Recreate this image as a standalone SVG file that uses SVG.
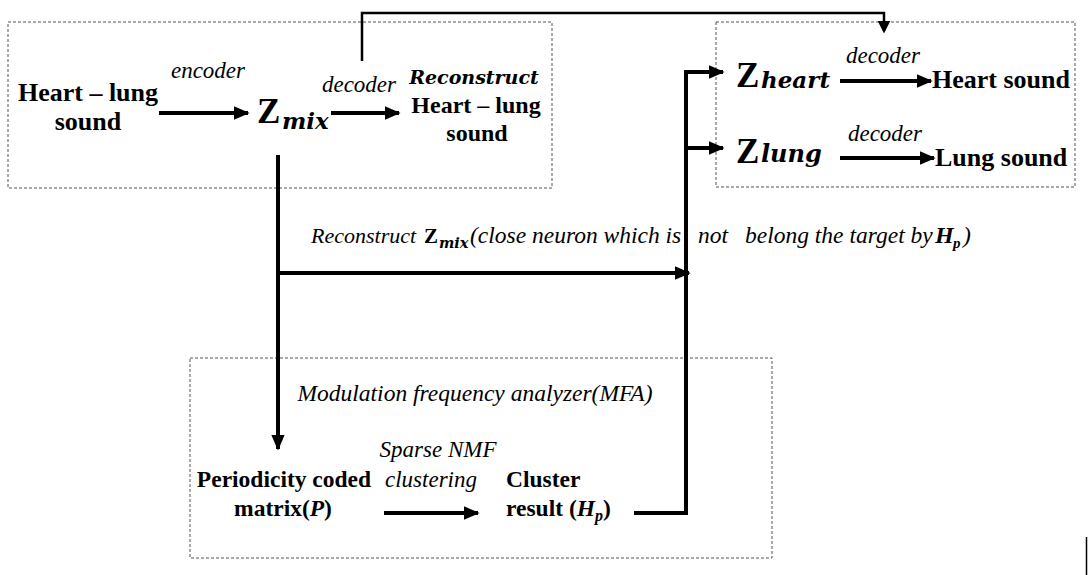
<svg xmlns="http://www.w3.org/2000/svg" width="1090" height="575" viewBox="0 0 1090 575">
<defs>
<style>
.box{fill:none;stroke:#555;stroke-width:1;stroke-dasharray:3,2}
.ln{fill:none;stroke:#000;stroke-width:4}
.thin{fill:none;stroke:#000;stroke-width:2.5}
.cb{font-family:"Liberation Serif","DejaVu Serif",serif;font-weight:bold;fill:#000}
.ci{font-family:"Liberation Serif","DejaVu Serif",serif;font-style:italic;fill:#000}
.mbi{font-family:"DejaVu Serif","Liberation Serif",serif;font-style:italic;font-weight:bold;fill:#000}
</style>
<marker id="ah" markerWidth="4" markerHeight="4" refX="3.6" refY="2" orient="auto" markerUnits="strokeWidth"><path d="M0,0.3 L4,2 L0,3.7 z" fill="#000"/></marker>
<marker id="ahs" markerWidth="5" markerHeight="5" refX="4" refY="2.5" orient="auto" markerUnits="strokeWidth"><path d="M0,0 L5,2.5 L0,5 z" fill="#000"/></marker>
</defs>
<rect width="1090" height="575" fill="#fff"/>

<g id="box-autoencoder">
<rect class="box" x="8" y="22" width="544" height="166"/>
<text class="cb" font-size="26" x="88" y="101" text-anchor="middle">Heart – lung</text>
<text class="cb" font-size="26" x="88" y="130" text-anchor="middle">sound</text>
<text class="ci" font-size="23" x="208" y="78" text-anchor="middle">encoder</text>
<g id="zmix"><text class="cb" font-size="35" x="257" y="123">Z</text><text class="mbi" font-size="23" x="282" y="129">mix</text></g>
<text class="ci" font-size="23" x="359" y="92" text-anchor="middle">decoder</text>
<text class="mbi" font-size="19" x="474" y="84" text-anchor="middle">Reconstruct</text>
<text class="cb" font-size="24" x="476" y="113" text-anchor="middle">Heart – lung</text>
<text class="cb" font-size="24" x="477" y="141" text-anchor="middle">sound</text>
</g>

<g id="box-separated">
<rect class="box" x="716" y="22" width="359" height="165"/>
<g id="zheart"><text class="cb" font-size="35" x="736" y="87">Z</text><text class="mbi" font-size="23" x="761" y="88">heart</text></g>
<g id="zlung"><text class="cb" font-size="35" x="736" y="163">Z</text><text class="mbi" font-size="24" x="761" y="162">lung</text></g>
<text class="ci" font-size="23" x="883" y="63" text-anchor="middle">decoder</text>
<text class="ci" font-size="23" x="885" y="141" text-anchor="middle">decoder</text>
<text class="cb" font-size="26" x="932" y="88">Heart sound</text>
<text class="cb" font-size="26" x="935" y="166">Lung sound</text>
</g>

<g id="box-mfa">
<rect class="box" x="190" y="358" width="582" height="200"/>
<text class="ci" font-size="23.5" x="475" y="401" text-anchor="middle">Modulation frequency analyzer(MFA)</text>
<text class="cb" font-size="23.5" x="284" y="487" text-anchor="middle">Periodicity coded</text>
<text class="cb" font-size="23.5" x="283" y="516" text-anchor="middle">matrix(<tspan font-style="italic">P</tspan>)</text>
<text class="ci" font-size="23" x="438" y="457" text-anchor="middle">Sparse NMF</text>
<text class="ci" font-size="23" x="431" y="487" text-anchor="middle">clustering</text>
<text class="cb" font-size="23.5" x="506" y="487">Cluster</text>
<text class="cb" font-size="23.5" x="506" y="516">result (<tspan font-style="italic">H</tspan><tspan font-style="italic" font-size="16" dy="5">p</tspan><tspan dy="-5">)</tspan></text>
</g>

<g id="label-reconstruct">
<text class="ci" font-size="22" x="311" y="243">Reconstruct</text>
<text class="cb" font-size="21" x="424" y="243">Z</text>
<text class="mbi" font-size="14.5" x="439" y="248">mix</text>
<text class="ci" font-size="23.5" x="470" y="243">(close neuron which is</text>
<text class="ci" font-size="23.5" x="698" y="243">not</text>
<text class="ci" font-size="23.5" x="745" y="243">belong the target by</text>
<text class="cb" font-size="24" x="935" y="243" font-style="italic">H</text>
<text class="cb" font-size="15" x="953" y="248" font-style="italic">p</text>
<text class="ci" font-size="23.5" x="963" y="243">)</text>
</g>

<g id="connectors">
<line class="ln" x1="159" y1="113" x2="248" y2="113" marker-end="url(#ah)"/>
<line class="ln" x1="331" y1="113" x2="399" y2="113" marker-end="url(#ah)"/>
<polyline class="thin" points="362,61 362,13 884,13 884,31" marker-end="url(#ahs)"/>
<line class="ln" x1="278" y1="155" x2="278" y2="449" marker-end="url(#ah)"/>
<line class="ln" x1="278" y1="273" x2="689" y2="273" marker-end="url(#ah)"/>
<line class="ln" x1="384" y1="513" x2="478" y2="513" marker-end="url(#ah)"/>
<polyline class="ln" points="634,513 686,513 686,72"/>
<line class="ln" x1="684" y1="72" x2="723" y2="72" marker-end="url(#ah)"/>
<line class="ln" x1="684" y1="148" x2="723" y2="148" marker-end="url(#ah)"/>
<line class="ln" x1="840" y1="81" x2="931" y2="81" marker-end="url(#ah)"/>
<line class="ln" x1="840" y1="158" x2="934" y2="158" marker-end="url(#ah)"/>
</g>
<line x1="1086.5" y1="537" x2="1086.5" y2="575" stroke="#000" stroke-width="1.5"/>
</svg>
